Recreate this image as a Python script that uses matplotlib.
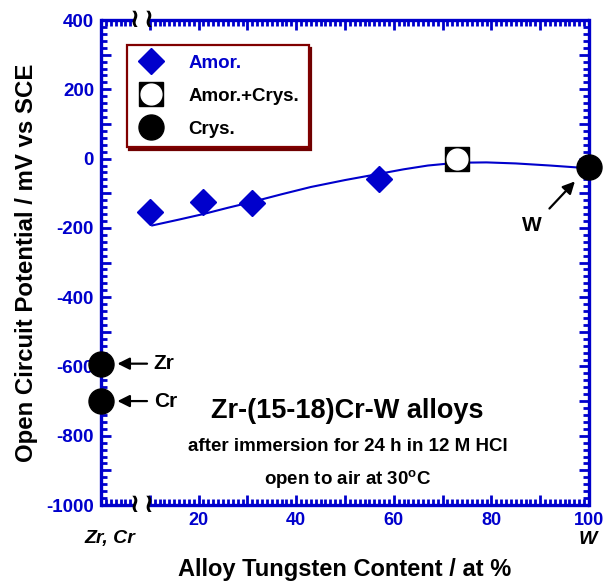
import matplotlib.pyplot as plt
import numpy as np
from matplotlib.ticker import FixedLocator, FuncFormatter
from matplotlib.lines import Line2D

plt.rcParams['font.family'] = ['Liberation Sans', 'DejaVu Sans']
plt.rcParams['font.weight'] = 'bold'

BLUE = '#0000CC'

# data
amor_x = [10, 21, 31, 57]
amor_y = [-155, -125, -128, -58]
mixed_x = [73]
mixed_y = [0]
crys_x = [0, 0, 100]
crys_y = [-592, -700, -25]
crys_names = ['Zr', 'Cr', 'W']
fit_x = [10.5, 16, 21, 26, 31, 37, 43, 50, 57, 62, 67, 73, 79, 85, 92, 100]
fit_y = [-193, -176, -160, -142, -125, -103, -82, -62, -44, -31, -20, -12, -11, -14, -20, -28]

fig = plt.figure(figsize=(6.03, 5.82), dpi=100)
ax = fig.add_axes([0.1675, 0.1323, 0.8093, 0.8333])
ax.set_xlim(0, 100)
ax.set_ylim(-1000, 400)

ax.plot(fit_x, fit_y, color=BLUE, lw=1.5, zorder=2)
ax.plot(amor_x, amor_y, 'D', color=BLUE, ms=13, zorder=3, label='Amor.')
ax.plot(mixed_x, mixed_y, 's', color='black', ms=17, zorder=3)
ax.plot(mixed_x, mixed_y, 'o', color='white', ms=15, mec='white', zorder=4)
ax.plot(crys_x, crys_y, 'o', color='black', ms=18, zorder=5, clip_on=False)

# arrows to pure metals
arrow = dict(arrowstyle='-|>', color='black', lw=1.6, mutation_scale=18)
ax.annotate('', xy=(2.8, crys_y[0]), xytext=(10, crys_y[0]), arrowprops=arrow)
ax.annotate('', xy=(2.8, crys_y[1]), xytext=(10, crys_y[1]), arrowprops=arrow)
ax.text(10.8, crys_y[0], crys_names[0], fontsize=15, va='center', ha='left')
ax.text(10.8, crys_y[1], crys_names[1], fontsize=15, va='center', ha='left')
ax.annotate('', xy=(97.5, -60), xytext=(91.5, -150), arrowprops=arrow)
ax.text(88.3, -192, crys_names[2], fontsize=15, ha='center', va='center')

# annotation texts
ax.text(50.5, -729, 'Zr-(15-18)Cr-W alloys', fontsize=19.5, ha='center', va='center')
ax.text(50.5, -830, 'after immersion for 24 h in 12 M HCl', fontsize=13.5, ha='center', va='center')
ax.text(50.5, -928, 'open to air at 30$^\\mathregular{o}$C', fontsize=13.5, ha='center', va='center')

# axes styling, with a break in the x axis
for s in ['top', 'bottom']:
    ax.spines[s].set_visible(False)
for s in ['left', 'right']:
    ax.spines[s].set_color(BLUE)
    ax.spines[s].set_linewidth(2.4)
trans = ax.get_xaxis_transform()
for yy in [0, 1]:
    ax.plot([0, 6.8], [yy, yy], color=BLUE, lw=2.4, transform=trans, clip_on=False, solid_capstyle='butt')
    ax.plot([9.7, 100], [yy, yy], color=BLUE, lw=2.4, transform=trans, clip_on=False, solid_capstyle='butt')
    ax.text(6.8, yy, '≀', transform=trans, fontsize=19, ha='center', va='center',
            family='DejaVu Sans', fontweight='bold')
    ax.text(9.7, yy, '≀', transform=trans, fontsize=19, ha='center', va='center',
            family='DejaVu Sans', fontweight='bold')

xmaj = [v for v in range(10, 101, 10)]
xmin = [v for v in range(0, 101) if not (7 <= v <= 9)]
ax.xaxis.set_major_locator(FixedLocator(xmaj))
ax.xaxis.set_minor_locator(FixedLocator(xmin))
ax.xaxis.set_major_formatter(FuncFormatter(lambda v, p: f'{int(v)}' if v % 20 == 0 else ''))
ax.yaxis.set_major_locator(FixedLocator(np.arange(-1000, 401, 100)))
ax.yaxis.set_minor_locator(FixedLocator(np.arange(-1000, 401, 20)))
ax.yaxis.set_major_formatter(FuncFormatter(lambda v, p: f'{int(v)}' if v % 200 == 0 else ''))
ax.tick_params(which='both', direction='in', top=True, right=True, color=BLUE, width=2)
ax.tick_params(which='major', length=7, labelsize=13.5, labelcolor=BLUE, pad=5)
ax.tick_params(axis='x', which='major', labelsize=13)
ax.tick_params(which='minor', length=4)
for lab in ax.get_xticklabels() + ax.get_yticklabels():
    lab.set_fontweight('bold')

ax.text(0.018, -0.07, 'Zr, Cr', transform=ax.transAxes, fontsize=14, style='italic', ha='center', va='center')
ax.text(0.998, -0.072, 'W', transform=ax.transAxes, fontsize=14, style='italic', ha='center', va='center')

ax.set_xlabel('Alloy Tungsten Content / at %', fontsize=17, fontweight='bold', labelpad=21)
ax.set_ylabel('Open Circuit Potential / mV vs SCE', fontsize=17.3, fontweight='bold', labelpad=6)

# legend
h_amor = Line2D([], [], ls='none', marker='D', color=BLUE, ms=13)
h_sq = Line2D([], [], ls='none', marker='s', color='black', ms=17)
h_ci = Line2D([], [], ls='none', marker='o', color='white', mec='white', ms=15)
h_crys = Line2D([], [], ls='none', marker='o', color='black', ms=18)
leg = ax.legend([h_amor, (h_sq, h_ci), h_crys], ['Amor.', 'Amor.+Crys.', 'Crys.'],
                loc='upper left', bbox_to_anchor=(0.053, 0.948), fontsize=13.5,
                frameon=True, fancybox=False, handletextpad=1.2, handlelength=1.6,
                borderpad=0.5, labelspacing=0.85, borderaxespad=0,
                shadow={'color': '#700000', 'alpha': 1.0, 'ox': 1.8, 'oy': -1.8})
leg.get_frame().set_edgecolor('#800000')
leg.get_frame().set_linewidth(1.6)
leg.get_frame().set_alpha(1)
leg.get_texts()[0].set_color(BLUE)

fig.savefig('out.png', dpi=100)
